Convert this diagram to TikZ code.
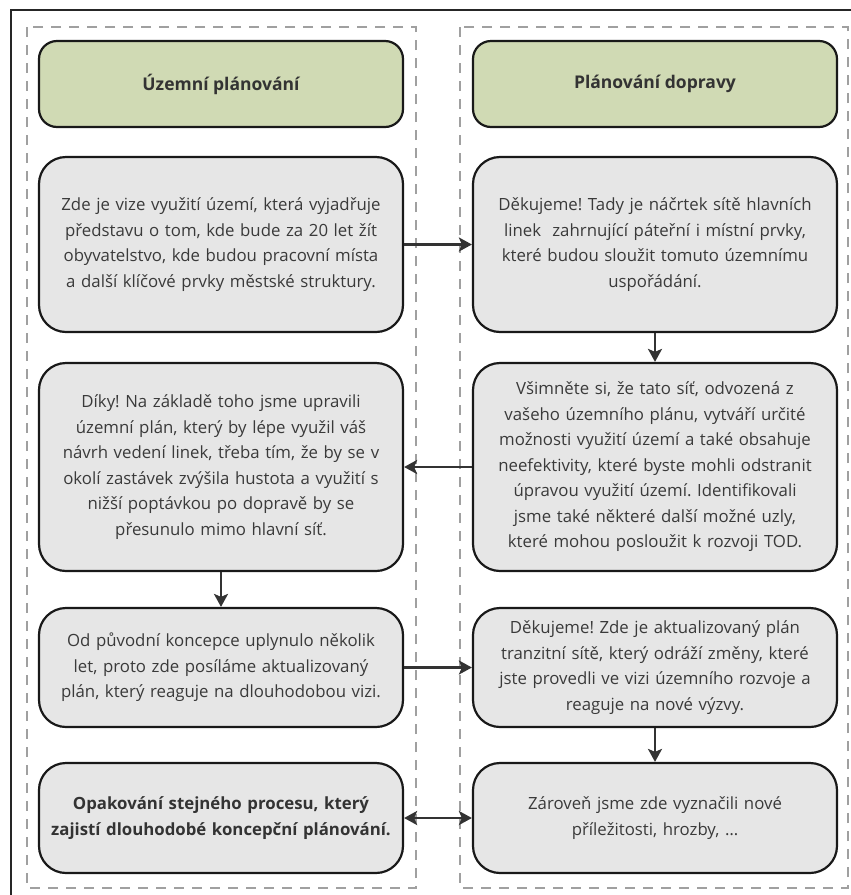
\documentclass[tikz,border=0pt]{standalone}
\usepackage{fontspec}
\setmainfont{Open Sans}
\frenchspacing
\usetikzlibrary{arrows.meta}
\definecolor{hdrfill}{HTML}{D0DAB4}
\definecolor{boxfill}{HTML}{E6E6E6}
\definecolor{txt}{HTML}{3A3A3A}
\definecolor{lnk}{HTML}{333333}
\definecolor{dsh}{HTML}{A0A0A0}
\tikzset{
  hdr/.style={draw=black!90, line width=2.2pt, fill=hdrfill, rounded corners=18pt,
    minimum width=364pt, minimum height=86pt, inner sep=0pt,
    font=\fontsize{17.5}{21}\selectfont\bfseries, text=lnk},
  card/.style={draw=black!90, line width=2.2pt, fill=boxfill, rounded corners=27pt,
    minimum width=364pt, inner sep=0pt, text width=360pt, align=center,
    font=\fontsize{16.8}{25.5}\selectfont, text=txt},
  flow/.style={draw=lnk, line width=2.6pt, -{Stealth[length=13pt,width=14pt,inset=3pt]}},
  flow2/.style={draw=lnk, line width=2.6pt, {Stealth[length=13pt,width=14pt,inset=3pt]}-{Stealth[length=13pt,width=14pt,inset=3pt]}},
  lane/.style={draw=dsh, line width=2pt, dash pattern=on 10pt off 8pt}
}
\begin{document}
\begin{tikzpicture}[x=1pt,y=-1pt]
\useasboundingbox (0,0) rectangle (851,895);
\fill[white] (0,0) rectangle (851,895);
% outer frame edges
\draw[black!85, line width=1.4pt] (11,895) -- (11,10) -- (851,10);
% lanes
\draw[lane] (27,27) rectangle (416,888);
\draw[lane] (460,27) rectangle (848,888);
% headers
\node[hdr] (hL) at (221,84) {Územní plánování};
\node[hdr] (hR) at (655,84) {Plánování dopravy};
% row 1
\node[card, minimum height=175pt] (b1L) at (221,244.5) {Zde je vize využití území, která vyjadřuje\\ představu o tom, kde bude za 20 let žít\\ obyvatelstvo, kde budou pracovní místa\\ a další klíčové prvky městské struktury.};
\node[card, minimum height=175pt] (b1R) at (655,244.5) {Děkujeme! Tady je náčrtek sítě hlavních\\ linek\ \ zahrnující páteřní i místní prvky,\\ které budou sloužit tomuto územnímu\\ uspořádání.};
% row 2
\node[card, minimum height=208pt] (b2L) at (221,467) {Díky! Na základě toho jsme upravili\\ územní plán, který by lépe využil váš\\ návrh vedení linek, třeba tím, že by se v\\ okolí zastávek zvýšila hustota a využití s\\ nižší poptávkou po dopravě by se\\ přesunulo mimo hlavní síť.};
\node[card, minimum height=208pt] (b2R) at (655,467) {Všimněte si, že tato síť, odvozená z\\ vašeho územního plánu, vytváří určité\\ možnosti využití území a také obsahuje\\ neefektivity, které byste mohli odstranit\\ úpravou využití území. Identifikovali\\ jsme také některé další možné uzly,\\ které mohou posloužit k rozvoji TOD.};
% row 3
\node[card, minimum height=119pt] (b3L) at (221,667.5) {Od původní koncepce uplynulo několik\\ let, proto zde posíláme aktualizovaný\\ plán, který reaguje na dlouhodobou vizi.};
\node[card, minimum height=119pt] (b3R) at (655,667.5) {Děkujeme! Zde je aktualizovaný plán\\ tranzitní sítě, který odráží změny, které\\ jste provedli ve vizi územního rozvoje a\\ reaguje na nové výzvy.};
% row 4
\node[card, minimum height=110pt, font=\fontsize{16.8}{25.5}\selectfont\bfseries, text=lnk] (b4L) at (221,818) {Opakování stejného procesu, který\\ zajistí dlouhodobé koncepční plánování.};
\node[card, minimum height=110pt] (b4R) at (655,818) {Zároveň jsme zde vyznačili nové\\ příležitosti, hrozby, \dots};
% connectors
\draw[flow] (b1L.east) -- (b1R.west);
\draw[flow] (b1R.south) -- (b2R.north);
\draw[flow] (b2R.west) -- (b2L.east);
\draw[flow] (b2L.south) -- (b3L.north);
\draw[flow] (b3L.east) -- (b3R.west);
\draw[flow] (b3R.south) -- (b4R.north);
\draw[flow2] (b4L.east) -- (b4R.west);
\end{tikzpicture}
\end{document}
